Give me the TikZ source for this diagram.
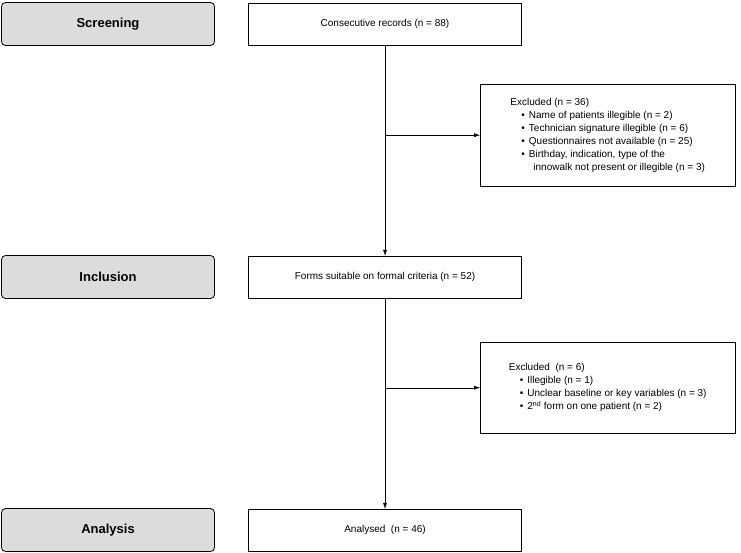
\documentclass[tikz,border=0pt]{standalone}
\usepackage{fontspec}
\setmainfont{Liberation Sans}
\usetikzlibrary{positioning,arrows.meta}
\definecolor{stagegray}{RGB}{220,220,220}
\tikzset{
  stage/.style={draw, thick, rounded corners=4pt, fill=stagegray, minimum width=213pt, minimum height=43pt, font=\bfseries\fontsize{13}{15}\selectfont},
  box/.style={draw, minimum width=273pt, minimum height=42pt, font=\fontsize{10}{12}\selectfont},
  excl/.style={draw, align=left, anchor=north west, inner sep=4pt, font=\fontsize{10}{13}\selectfont},
  flow/.style={-{Latex[length=6pt,width=4pt]}}
}
\newcommand{\itm}{\hspace*{1.1em}\textbullet\hspace{0.4em}}
\newcommand{\itc}{\hspace*{2.3em}}
\begin{document}
\begin{tikzpicture}[x=1pt,y=-1pt]
\useasboundingbox (0,0) rectangle (741,552);
% stages
\node[stage] (screening) at (108,24) {Screening};
\node[stage] (inclusion) at (108,277) {Inclusion};
\node[stage] (analysis) at (108,530) {Analysis};
% main flow
\node[box] (records) at (385,24) {Consecutive records (n = 88)};
\node[box] (forms) at (385,277) {Forms suitable on formal criteria (n = 52)};
\node[box] (analysed) at (385,530) {Analysed\ \ (n = 46)};
% exclusions
\node[excl, minimum width=255pt, minimum height=102pt] (excla) at (480,84) {Excluded (n = 36)\\
\itm Name of patients illegible (n = 2)\\
\itm Technician signature illegible (n = 6)\\
\itm Questionnaires not available (n = 25)\\
\itm Birthday, indication, type of the\\
\itc innowalk not present or illegible (n = 3)};
\node[excl, minimum width=255pt, minimum height=91pt] (exclb) at (480,342) {Excluded\ \ (n = 6)\\
\itm Illegible (n = 1)\\
\itm Unclear baseline or key variables (n = 3)\\
\itm 2\textsuperscript{nd} form on one patient (n = 2)};
\coordinate (ja) at (records.south |- excla.west);
\coordinate (jb) at (forms.south |- exclb.west);
\draw[flow] (records) -- (forms);
\draw[flow] (forms) -- (analysed);
\draw[flow] (ja) -- (excla.west);
\draw[flow] (jb) -- (exclb.west);
\end{tikzpicture}
\end{document}
